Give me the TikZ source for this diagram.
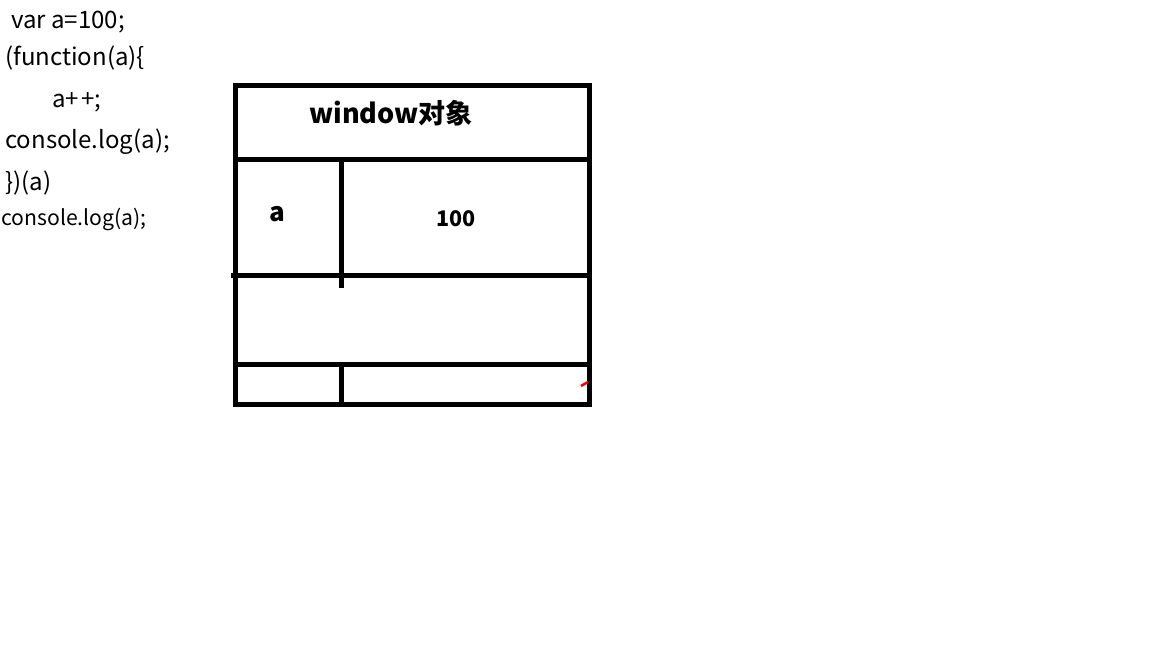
\documentclass[tikz,border=0pt]{standalone}
\usepackage{fontspec}
\setmainfont{Noto Sans CJK SC}
\begin{document}
\begin{tikzpicture}[x=1pt,y=-1pt,
  code/.style={anchor=base west,inner sep=0pt,font=\fontsize{24}{24}\selectfont},
  lbl/.style={anchor=base,inner sep=0pt,font=\fontsize{21.5}{21.5}\selectfont\bfseries},
  heavy/.style={line width=5pt}]
\useasboundingbox[fill=white] (0,0) rectangle (1152,648);
% code listing
\node[code] (l1) at (11,28) {var a=100;};
\node[code] (l2) at (5,65) {(function(a)\{};
\node[code] (l3) at (52,107) {a+\kern2pt+;};
\node[code] (l4) at (5,148) {console.log(a);};
\node[code] (l5) at (5,190) {\})(a)};
\node[code,font=\fontsize{21.2}{21.2}\selectfont] (l6) at (1,225) {console.log(a);};
% table
\draw[heavy] (235,85.5) rectangle (589.5,404);
\draw[heavy] (235,159) -- (589.5,159);
\draw[heavy] (231,275) -- (589.5,275);
\draw[heavy] (237,364.5) -- (589.5,364.5);
\draw[line width=2pt] (237,362.5) -- (242,362.5);
\draw[heavy] (341,159) -- (341,288);
\draw[heavy] (341,364.5) -- (341,404);
\node[lbl,font=\fontsize{27}{27}\selectfont\bfseries] (title) at (391,123) {window对象};
\node[lbl,font=\fontsize{26}{26}\selectfont\bfseries] (ka) at (277,221.5) {a};
\node[lbl] (v100) at (456,226.5) {100};
% red mark
\draw[red,line width=2.5pt] (581,386) -- (588,382);
\end{tikzpicture}
\end{document}
